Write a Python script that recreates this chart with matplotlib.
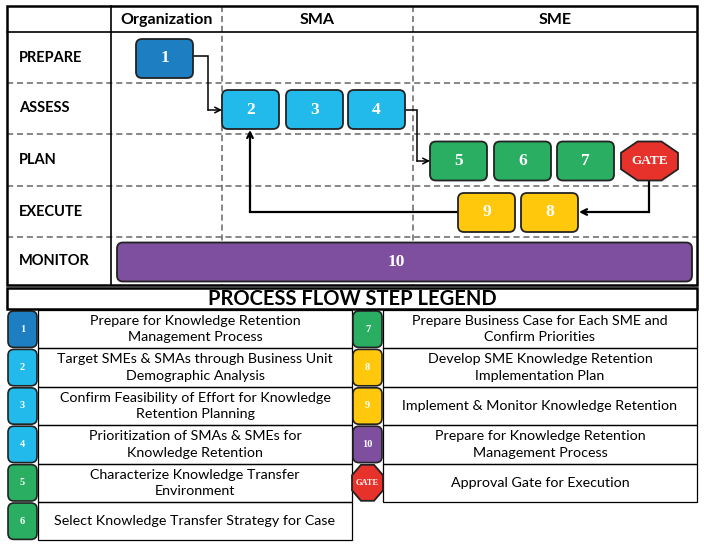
import matplotlib.pyplot as plt
from matplotlib.patches import FancyBboxPatch, Polygon, Rectangle

# swimlane data
phases = ['PREPARE', 'ASSESS', 'PLAN', 'EXECUTE', 'MONITOR']
lanes = ['Organization', 'SMA', 'SME']

steps = ['1', '2', '3', '4', '5', '6', '7', 'GATE', '9', '8', '10']
step_phase = ['PREPARE', 'ASSESS', 'ASSESS', 'ASSESS', 'PLAN', 'PLAN', 'PLAN',
              'PLAN', 'EXECUTE', 'EXECUTE', 'MONITOR']
step_group = ['prep', 'assess', 'assess', 'assess', 'plan', 'plan', 'plan',
              'gate', 'exec', 'exec', 'monitor']

# legend data
legend_left = ['1', '2', '3', '4', '5', '6']
legend_left_text = [
    'Prepare for Knowledge Retention\nManagement Process',
    'Target SMEs & SMAs through Business Unit\nDemographic Analysis',
    'Confirm Feasibility of Effort for Knowledge\nRetention Planning',
    'Prioritization of SMAs & SMEs for\nKnowledge Retention',
    'Characterize Knowledge Transfer\nEnvironment',
    'Select Knowledge Transfer Strategy for Case',
]
legend_right = ['7', '8', '9', '10', 'GATE']
legend_right_text = [
    'Prepare Business Case for Each SME and\nConfirm Priorities',
    'Develop SME Knowledge Retention\nImplementation Plan',
    'Implement & Monitor Knowledge Retention',
    'Prepare for Knowledge Retention\nManagement Process',
    'Approval Gate for Execution',
]

colors = {'prep': '#1E7EC2', 'assess': '#21BAEB', 'plan': '#29AE62',
          'gate': '#E6322A', 'exec': '#FFC80C', 'monitor': '#7E4F9E'}
group_of = dict(zip(steps, step_group))
edge = '#222222'
sans = 'Lato'
serif = 'Liberation Serif'

# layout (pixels)
x_lab, x_org, x_sma, x_sme, x_end = 7, 111, 222, 413, 697
y_top, y_head = 6, 32
row_edges = [32, 83, 134, 186, 237, 285]
slot_x = {'1': 136, '2': 222, '3': 286, '4': 348, '5': 430, '6': 494,
          '7': 557, 'GATE': 621, '9': 458, '8': 521}
bw, bh = 57, 39

fig = plt.figure(figsize=(7.04, 5.47), dpi=100)
ax = fig.add_axes([0, 0, 1, 1])
ax.set_xlim(0, 704)
ax.set_ylim(547, 0)
ax.axis('off')

dash = dict(color='#666666', lw=1.1, ls=(0, (4, 2.5)))

# grid
for y in row_edges[1:-1]:
    ax.plot([x_lab, x_end], [y, y], **dash, zorder=1)
for x in [x_sma, x_sme]:
    ax.plot([x, x], [y_top, row_edges[-1]], **dash, zorder=1)
ax.plot([x_org, x_org], [y_top, row_edges[-1]], color='black', lw=1.2, zorder=1)
ax.plot([x_lab, x_end], [y_head, y_head], color='black', lw=1.2, zorder=1)
ax.add_patch(Rectangle((x_lab, y_top), x_end - x_lab, row_edges[-1] - y_top,
                       fill=False, ec='black', lw=1.8, zorder=5))

lane_edges = [x_org, x_sma, x_sme, x_end]
for i, name in enumerate(lanes):
    ax.text((lane_edges[i] + lane_edges[i + 1]) / 2, (y_top + y_head) / 2 + 1, name,
            ha='center', va='center', fontsize=11.5, fontweight='bold', family=sans)

row_center = {}
for i, ph in enumerate(phases):
    yc = (row_edges[i] + row_edges[i + 1]) / 2
    row_center[ph] = yc
    ax.text(19, yc, ph, ha='left', va='center', fontsize=10.5,
            fontweight='bold', family=sans)


def octagon(cx, cy, w, h, color, zorder=3):
    cw, ch = w * 0.29, h * 0.29
    pts = [(cx - w / 2 + cw, cy - h / 2), (cx + w / 2 - cw, cy - h / 2),
           (cx + w / 2, cy - h / 2 + ch), (cx + w / 2, cy + h / 2 - ch),
           (cx + w / 2 - cw, cy + h / 2), (cx - w / 2 + cw, cy + h / 2),
           (cx - w / 2, cy + h / 2 - ch), (cx - w / 2, cy - h / 2 + ch)]
    ax.add_patch(Polygon(pts, closed=True, fc=color, ec=edge, lw=1.3, zorder=zorder))


# step boxes
for s, ph in zip(steps, step_phase):
    yc = row_center[ph] + 1
    col = colors[group_of[s]]
    if s == '10':
        x0, w = 117, 575
    else:
        x0, w = slot_x[s], bw
    if s == 'GATE':
        octagon(x0 + w / 2, yc, w, bh, col)
        ax.text(x0 + w / 2, yc, s, ha='center', va='center', color='white',
                fontsize=9.5, fontweight='bold', family=serif, zorder=4)
        continue
    ax.add_patch(FancyBboxPatch((x0, yc - bh / 2), w, bh,
                                boxstyle='round,pad=0,rounding_size=6',
                                fc=col, ec=edge, lw=1.3, zorder=3))
    ax.text(x0 + w / 2 if s != '10' else 396, yc, s, ha='center', va='center',
            color='white', fontsize=12.5, fontweight='bold', family=serif, zorder=4)


# connectors
def connector(pts, lw):
    xs = [p[0] for p in pts]
    ys = [p[1] for p in pts]
    ax.plot(xs[:-1], ys[:-1], color='black', lw=lw, zorder=2,
            solid_joinstyle='miter')
    ax.annotate('', xy=pts[-1], xytext=pts[-2],
                arrowprops=dict(arrowstyle='->', color='black', lw=lw,
                                shrinkA=0, shrinkB=0, mutation_scale=10), zorder=2)


yp, ya, yl, ye = 56, 110, 161, 212
connector([(193, yp), (208, yp), (208, ya), (222, ya)], 1.1)
connector([(405, ya), (417, ya), (417, yl), (430, yl)], 1.1)
connector([(649, yl + 19), (649, ye), (579, ye)], 1.6)
connector([(458, ye), (250, ye), (250, 130)], 1.6)

# legend title
ax.add_patch(Rectangle((x_lab, 288), x_end - x_lab, 21, fill=False,
                       ec='black', lw=1.8, zorder=5))
ax.text(352, 299, 'PROCESS FLOW STEP LEGEND', ha='center', va='center',
        fontsize=14.5, fontweight='bold', family=sans)

row_h = 38.4
y0 = 310


def legend_column(labels, texts, xb, xt0, xt1):
    for i, (lab, txt) in enumerate(zip(labels, texts)):
        yt = y0 + i * row_h
        ax.add_patch(Rectangle((xt0, yt), xt1 - xt0, row_h, fill=False,
                               ec='black', lw=0.9, zorder=2))
        ax.text((xt0 + xt1) / 2, yt + row_h / 2, txt, ha='center', va='center',
                fontsize=10.3, family=sans, linespacing=1.45)
        col = colors[group_of[lab]]
        if lab == 'GATE':
            octagon(xb + 15.5, yt + row_h / 2, 31, 36, col)
            ax.text(xb + 15.5, yt + row_h / 2, lab, ha='center', va='center',
                    color='white', fontsize=6, fontweight='bold', family=serif, zorder=4)
            continue
        ax.add_patch(FancyBboxPatch((xb + 1, yt + 1), 29, row_h - 2,
                                    boxstyle='round,pad=0,rounding_size=6',
                                    fc=col, ec=edge, lw=1.2, zorder=3))
        ax.text(xb + 15.5, yt + row_h / 2, lab, ha='center', va='center',
                color='white', fontsize=7.5, fontweight='bold', family=serif, zorder=4)


legend_column(legend_left, legend_left_text, 7, 38, 352)
legend_column(legend_right, legend_right_text, 352, 383, 697)

fig.savefig('out.png', dpi=100)
